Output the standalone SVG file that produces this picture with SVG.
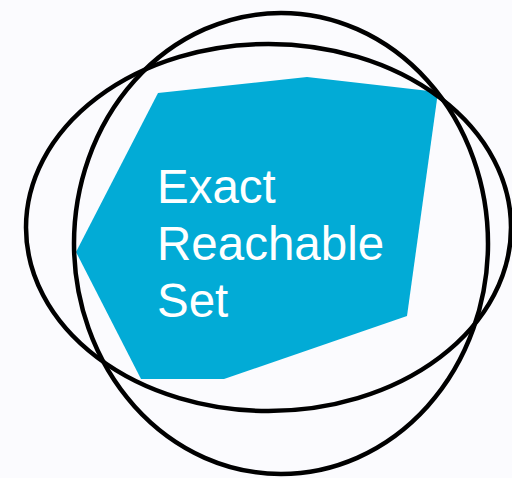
<svg xmlns="http://www.w3.org/2000/svg" width="512" height="478" viewBox="0 0 512 478">
  <style>
    .ring { fill: none; stroke: #000; stroke-width: 4.5; }
    .lbl { font-family: "Liberation Sans", Arial, sans-serif; font-size: 47.5px; fill: #fff; }
  </style>
  <rect width="512" height="478" fill="#fbfbfe"/>
  <g id="exact-set">
    <polygon points="158,93 307,77 438,92 407,316 224,379 141,379 76,252" fill="#02abd6"/>
    <text class="lbl" x="157" y="203">Exact</text>
    <text class="lbl" x="157" y="260">Reachable</text>
    <text class="lbl" x="157" y="317">Set</text>
  </g>
  <g id="over-approximations">
    <ellipse id="wide-ellipse" class="ring" cx="268.5" cy="227.5" rx="242.5" ry="183.5"/>
    <ellipse id="tall-ellipse" class="ring" cx="281" cy="243.5" rx="207" ry="230.5"/>
  </g>
</svg>
